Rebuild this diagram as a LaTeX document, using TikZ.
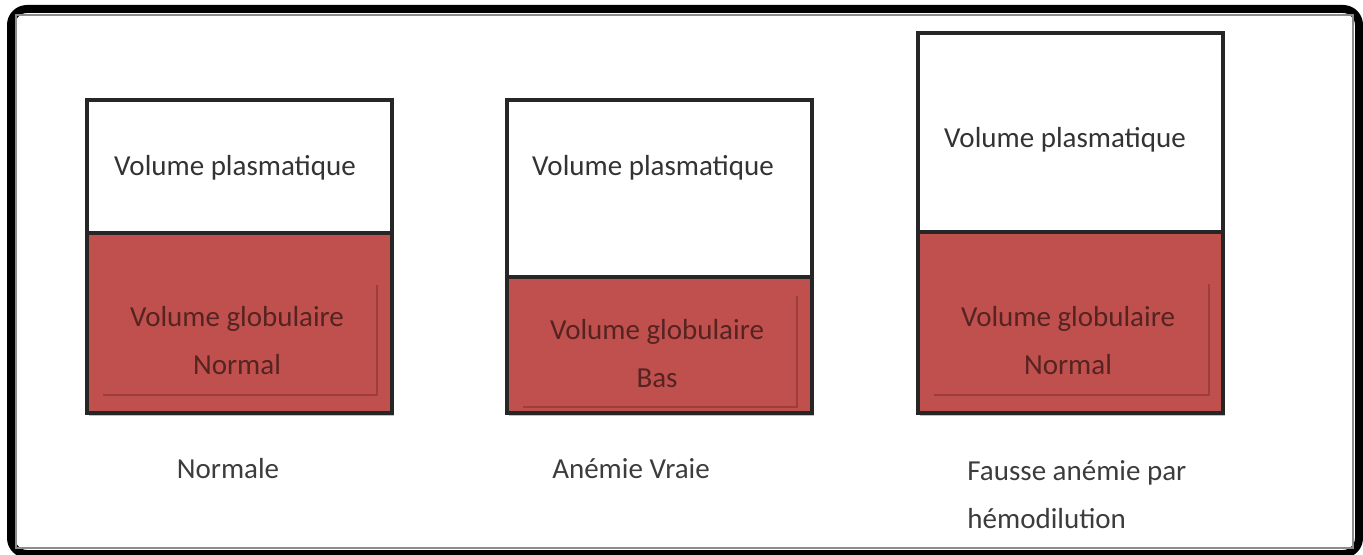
\documentclass[tikz,border=0pt]{standalone}
\usepackage{fontspec}
\setmainfont{Carlito}
\usetikzlibrary{calc,shadows}
\definecolor{redfill}{HTML}{C0504D}
\definecolor{bevel}{HTML}{9E3E3B}
\definecolor{boxline}{HTML}{262626}
\definecolor{redtext}{HTML}{552321}
\definecolor{graytext}{HTML}{3C3C3C}
\begin{document}
\begin{tikzpicture}[x=0.5pt,y=-0.5pt,
  every node/.style={font=\fontsize{14.5pt}{24pt}\selectfont, inner sep=0pt},
  plasma/.style={draw=boxline, line width=1.6pt, fill=white, minimum width=152.5pt},
  globe/.style={draw=boxline, line width=1.6pt, fill=redfill, minimum width=152.5pt,
     drop shadow={shadow xshift=1pt, shadow yshift=-1.5pt, opacity=0.35, fill=redfill!70!black}},
  ptext/.style={text=black!80},
  gtext/.style={text=redtext, align=center},
  ltext/.style={text=graytext},
  bevelline/.style={draw=bevel, line width=1pt}]
\useasboundingbox (0,0) rectangle (1363,555);
% frame
\draw[line width=4pt, rounded corners=8pt] (11,9) rectangle (1359,554);
\draw[black!45, line width=0.8pt] (16,15) rectangle (1353,548);

% column 1
\node[globe, minimum height=90pt] (r1) at (239.5,323) {};
\node[plasma, minimum height=66.5pt] (p1) at (239.5,166.5) {};
\node[ptext] (t1) at (235,168) {Volume plasmatique};
\node[gtext] (g1) at (237,341) {Volume globulaire\\Normal};
\draw[bevelline] ($(r1.north east)+(-17,54)$) -- ($(r1.south east)+(-17,-20)$) -- ($(r1.south west)+(18,-20)$);
\node[ltext] (l1) at (228,469) {Normale};

% column 2
\node[globe, minimum height=68pt] (r2) at (659.5,345) {};
\node[plasma, minimum height=88.5pt] (p2) at (659.5,188.5) {};
\node[ptext] (t2) at (653,168) {Volume plasmatique};
\node[gtext] (g2) at (657,354) {Volume globulaire\\Bas};
\draw[bevelline] ($(r2.north east)+(-17,21)$) -- ($(r2.south east)+(-17,-8)$) -- ($(r2.south west)+(18,-8)$);
\node[ltext] (l2) at (631,469) {Anémie Vraie};

% column 3
\node[globe, minimum height=90.5pt] (r3) at (1070.5,322.5) {};
\node[plasma, minimum height=99.5pt] (p3) at (1070.5,132.5) {};
\node[ptext] (t3) at (1065,140) {Volume plasmatique};
\node[gtext] (g3) at (1068,341) {Volume globulaire\\Normal};
\draw[bevelline] ($(r3.north east)+(-16,54)$) -- ($(r3.south east)+(-16,-20)$) -- ($(r3.south west)+(18,-20)$);
\node[ltext, align=left, anchor=north west] (l3) at (967,460) {Fausse anémie par\\hémodilution};
\end{tikzpicture}
\end{document}
